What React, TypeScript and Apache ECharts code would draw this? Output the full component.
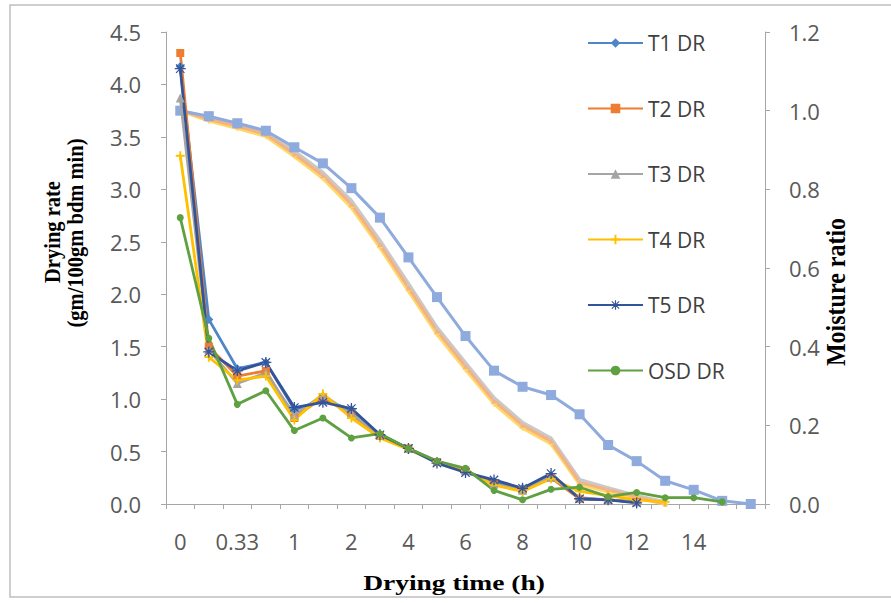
import React, { useEffect, useRef } from "react";
import * as echarts from "echarts";

const categories = ["0", "0.17", "0.33", "0.67", "1", "1.5", "2", "3", "4", "5", "6", "7", "8", "9", "10", "11", "12", "13", "14", "15", ""];

const t1DR = [4.17, 1.76, 1.29, 1.35, 0.9, 0.99, 0.9, 0.66, 0.53, 0.4, 0.31, 0.21, 0.15, 0.27, 0.05, 0.04, 0.02];
const t2DR = [4.3, 1.5, 1.22, 1.27, 0.82, 1.02, 0.85, 0.65, 0.53, 0.4, 0.32, 0.19, 0.13, 0.25, 0.05, 0.04, 0.02];
const t3DR = [3.87, 1.47, 1.15, 1.25, 0.85, 1.04, 0.86, 0.66, 0.53, 0.41, 0.32, 0.19, 0.13, 0.26, 0.06, 0.04, 0.02];
const t4DR = [3.32, 1.4, 1.18, 1.22, 0.8, 1.05, 0.82, 0.63, 0.52, 0.4, 0.32, 0.18, 0.12, 0.24, 0.12, 0.08, 0.04, 0.02];
const t5DR = [4.15, 1.45, 1.27, 1.35, 0.92, 0.97, 0.91, 0.66, 0.53, 0.39, 0.3, 0.23, 0.15, 0.29, 0.05, 0.04, 0.01];
const osdDR = [2.73, 1.58, 0.95, 1.08, 0.7, 0.82, 0.63, 0.67, 0.53, 0.41, 0.34, 0.13, 0.04, 0.14, 0.16, 0.07, 0.11, 0.06, 0.06, 0.02];

const t1MR = [1.0, 0.986, 0.968, 0.949, 0.907, 0.866, 0.803, 0.728, 0.627, 0.526, 0.427, 0.339, 0.298, 0.277, 0.228, 0.15, 0.109, 0.059, 0.036, 0.008, 0.0];
const t2MR = [1.0, 0.978, 0.96, 0.94, 0.89, 0.835, 0.762, 0.66, 0.55, 0.44, 0.35, 0.262, 0.2, 0.16, 0.055, 0.036, 0.018, 0.0];
const t3MR = [1.0, 0.982, 0.965, 0.946, 0.897, 0.843, 0.771, 0.67, 0.56, 0.449, 0.359, 0.27, 0.207, 0.167, 0.062, 0.041, 0.021, 0.005];
const t4MR = [1.0, 0.974, 0.955, 0.935, 0.884, 0.828, 0.754, 0.652, 0.542, 0.432, 0.342, 0.255, 0.193, 0.153, 0.05, 0.031, 0.015, 0.0];

const leftTicks = { min: 0, max: 4.5, interval: 0.5 };
const rightTicks = { min: 0, max: 1.2, interval: 0.2 };

const PLUS = "path://M4,0H6V4H10V6H6V10H4V6H0V4H4Z";
const ASTER =
  "path://M4.4,0H5.6V4.4H10V5.6H5.6V10H4.4V5.6H0V4.4H4.4Z M1.6,0.8L5,4.2L8.4,0.8L9.2,1.6L5.8,5L9.2,8.4L8.4,9.2L5,5.8L1.6,9.2L0.8,8.4L4.2,5L0.8,1.6Z";

const LABEL_FONT = "'Open Sans', sans-serif";
const TITLE_FONT = "'Liberation Serif', 'DejaVu Serif', serif";

export default function App() {
  const ref = useRef<HTMLDivElement>(null);
  useEffect(() => {
    if (!ref.current) return;
    const chart = echarts.init(ref.current, undefined, { renderer: "svg" });

    const drSeries = (name: string, data: number[], color: string, symbol: string, size: number) => ({
      name,
      type: "line",
      data,
      yAxisIndex: 0,
      symbol,
      symbolSize: size,
      showSymbol: true,
      z: 5,
      itemStyle: { color },
      lineStyle: { color, width: 2.8 },
    });
    const mrSeries = (name: string, data: number[], color: string, symbol: string, size: number, width: number) => ({
      name,
      type: "line",
      data,
      yAxisIndex: 1,
      symbol,
      symbolSize: size,
      z: 3,
      itemStyle: { color },
      lineStyle: { color, width },
    });

    const option: any = {
      animation: false,
      backgroundColor: "#ffffff",
      grid: { left: 166, right: 126, top: 32, bottom: 99 },
      legend: {
        data: ["T1 DR", "T2 DR", "T3 DR", "T4 DR", "T5 DR", "OSD DR"],
        orient: "vertical",
        left: 582,
        top: 26,
        itemWidth: 55,
        itemHeight: 12,
        itemGap: 41.5,
        textStyle: { fontFamily: LABEL_FONT, fontSize: 21, color: "#404040", lineHeight: 24 },
      },
      xAxis: {
        type: "category",
        data: categories,
        boundaryGap: true,
        axisLine: { lineStyle: { color: "#A6A6A6", width: 1 } },
        axisTick: { show: true, interval: 0, length: 5, lineStyle: { color: "#A6A6A6" } },
        axisLabel: {
          interval: 1,
          margin: 26,
          fontFamily: LABEL_FONT,
          fontSize: 22,
          color: "#595959",
        },
        splitLine: { show: false },
      },
      yAxis: [
        {
          type: "value",
          min: leftTicks.min,
          max: leftTicks.max,
          interval: leftTicks.interval,
          axisLine: { show: true, lineStyle: { color: "#A6A6A6" } },
          axisTick: { show: true, length: 5, lineStyle: { color: "#A6A6A6" } },
          axisLabel: {
            margin: 25,
            fontFamily: LABEL_FONT,
            fontSize: 22,
            color: "#595959",
            formatter: (v: number) => v.toFixed(1),
          },
          splitLine: { show: false },
        },
        {
          type: "value",
          min: rightTicks.min,
          max: rightTicks.max,
          interval: rightTicks.interval,
          position: "right",
          axisLine: { show: true, lineStyle: { color: "#A6A6A6" } },
          axisTick: { show: true, length: 5, lineStyle: { color: "#A6A6A6" } },
          axisLabel: {
            margin: 24,
            fontFamily: LABEL_FONT,
            fontSize: 22,
            color: "#595959",
            formatter: (v: number) => v.toFixed(1),
          },
          splitLine: { show: false },
        },
      ],
      graphic: [
        {
          type: "rect",
          shape: { x: 10, y: 5, width: 890, height: 592 },
          style: { fill: "none", stroke: "#BFBFBF", lineWidth: 1.5 },
          silent: true,
          z: -10,
        },
        {
          type: "text",
          x: 52,
          y: 232,
          rotation: Math.PI / 2,
          scaleY: 1.15,
          style: {
            text: "Drying rate",
            font: `bold 20.5px ${TITLE_FONT}`,
            fill: "#000000",
            textAlign: "center",
            textVerticalAlign: "middle",
          },
        },
        {
          type: "text",
          x: 75,
          y: 233,
          rotation: Math.PI / 2,
          scaleY: 1.15,
          style: {
            text: "(gm/100gm bdm min)",
            font: `bold 20.5px ${TITLE_FONT}`,
            fill: "#000000",
            textAlign: "center",
            textVerticalAlign: "middle",
          },
        },
        {
          type: "text",
          x: 836,
          y: 292,
          rotation: Math.PI / 2,
          scaleY: 1.15,
          style: {
            text: "Moisture ratio",
            font: `bold 24px ${TITLE_FONT}`,
            fill: "#000000",
            textAlign: "center",
            textVerticalAlign: "middle",
          },
        },
        {
          type: "text",
          x: 454,
          y: 582,
          scaleX: 1.25,
          style: {
            text: "Drying time (h)",
            font: `bold 22px ${TITLE_FONT}`,
            fill: "#000000",
            textAlign: "center",
            textVerticalAlign: "middle",
          },
        },
      ],
      series: [
        mrSeries("T3 MR", t3MR, "#C9C9C9", "triangle", 5, 3.5),
        mrSeries("T4 MR", t4MR, "#FFD966", PLUS, 6, 3.5),
        mrSeries("T2 MR", t2MR, "#F4B183", "triangle", 5, 3),
        mrSeries("T1 MR", t1MR, "#8FAADC", "rect", 10, 3),
        drSeries("T1 DR", t1DR, "#4F86C6", "diamond", 9),
        drSeries("T2 DR", t2DR, "#ED7D31", "rect", 8),
        drSeries("T3 DR", t3DR, "#A5A5A5", "triangle", 9),
        drSeries("T4 DR", t4DR, "#FFC000", PLUS, 9),
        drSeries("T5 DR", t5DR, "#34549A", ASTER, 11),
        drSeries("OSD DR", osdDR, "#5FA040", "circle", 7),
      ],
    };
    chart.setOption(option);
    return () => chart.dispose();
  }, []);
  return (
    <div
      ref={ref}
      style={{ position: "fixed", left: 0, top: 0, width: 891, height: 603, background: "#fff" }}
    />
  );
}
